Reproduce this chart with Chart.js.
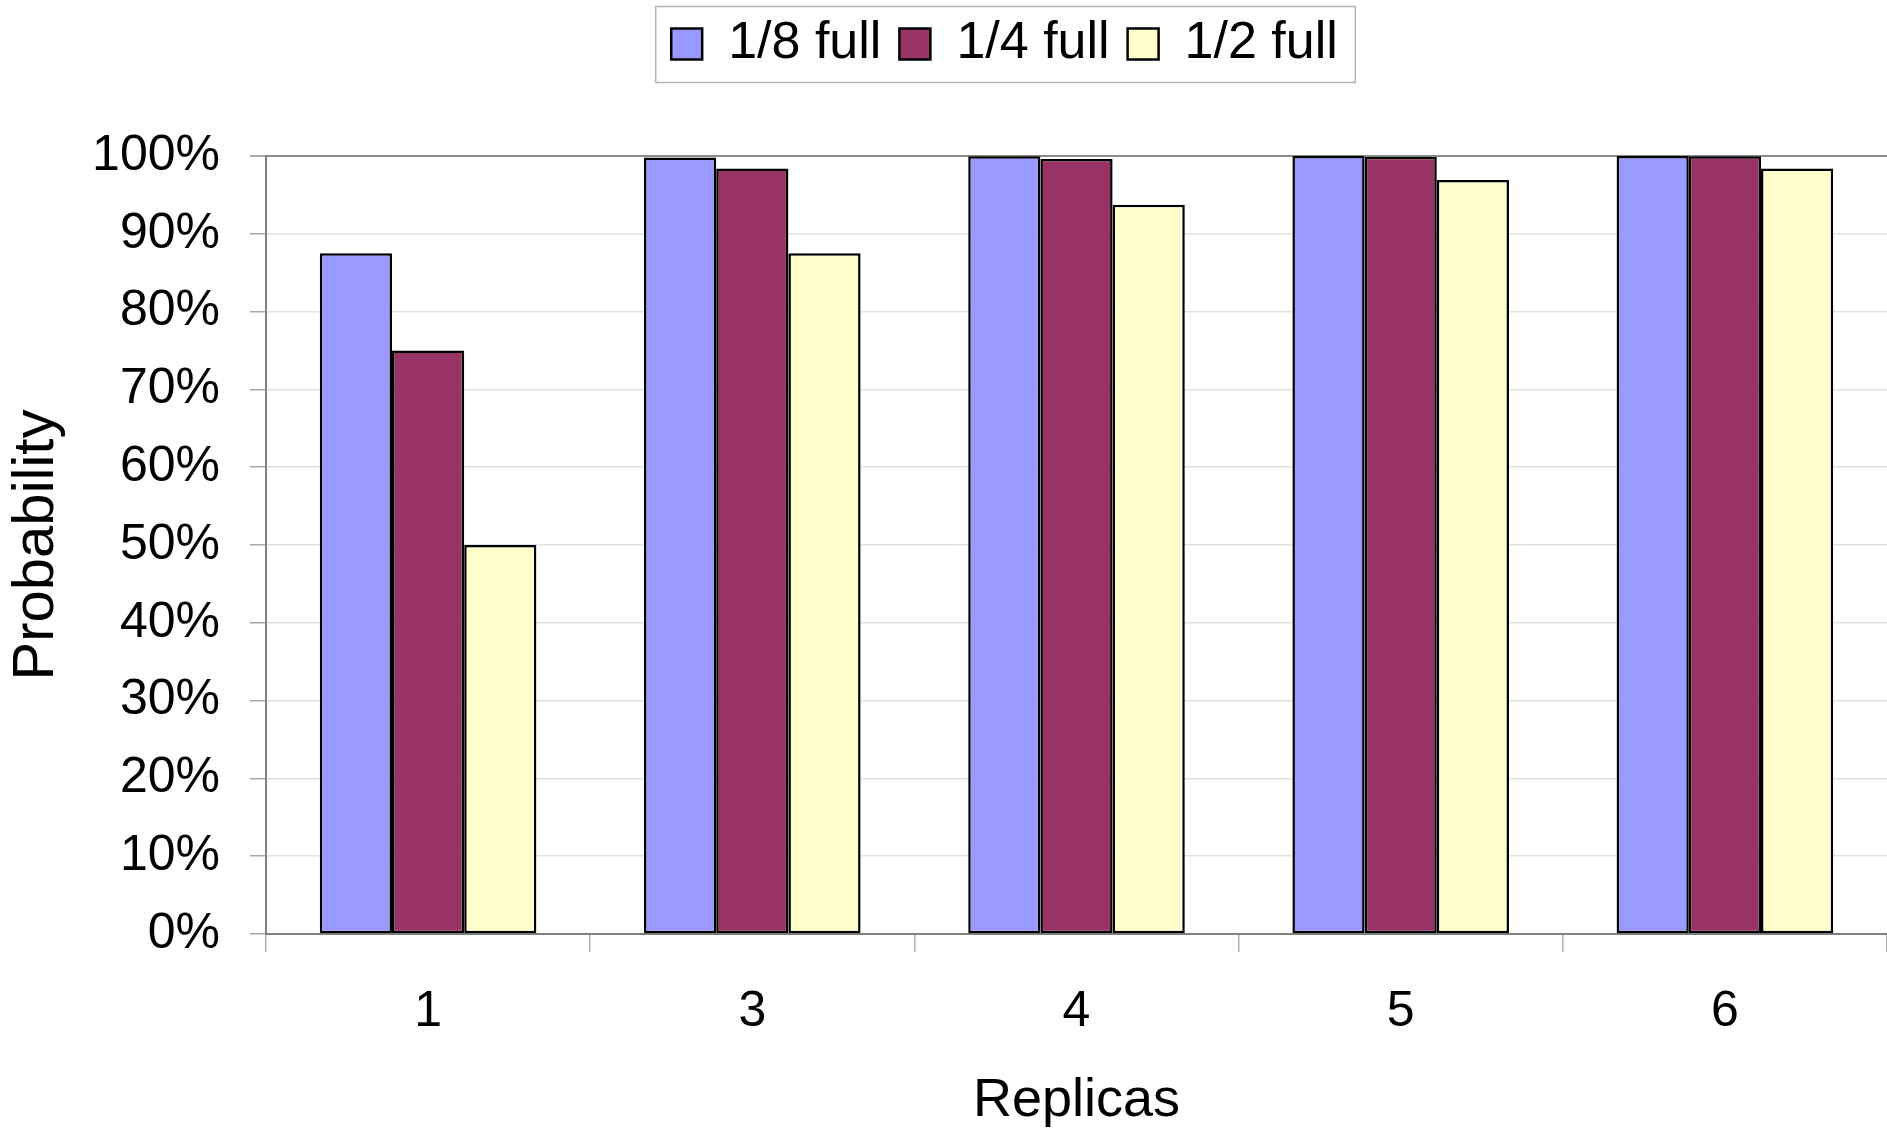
<!DOCTYPE html>
<html><head><meta charset="utf-8">
<script src="https://cdn.jsdelivr.net/npm/chart.js@4.4.1/dist/chart.umd.min.js"></script>
<style>html,body{margin:0;padding:0;background:#fff}#wrap{width:1887px;height:1131px}</style>
</head><body><div id="wrap"><canvas id="c" width="1887" height="1131"></canvas></div>
<script>
const categories = ['1', '3', '4', '5', '6'];
const seriesNames = ['1/8 full', '1/4 full', '1/2 full'];
const eighthFull = [87.5, 99.8, 99.98, 100, 100];
const quarterFull = [75, 98.4, 99.6, 99.9, 99.98];
const halfFull = [50, 87.5, 93.75, 96.9, 98.4];
const xTitle = 'Replicas';
const yTitle = 'Probability';

const FONT = "'Liberation Sans', Arial, Helvetica, sans-serif";
Chart.defaults.font.family = FONT;
Chart.defaults.color = '#000';

const legendShift = {
  id: 'legendShift',
  afterLayout(chart) {
    const lg = chart.legend;
    if (lg) { lg.left += 61; lg.right += 61; }
  }
};
const legendFrame = {
  id: 'legendFrame',
  afterDraw(chart) {
    const hb = chart.legend && chart.legend.legendHitBoxes;
    if (!hb || !hb.length) return;
    const last = hb[hb.length - 1];
    const l = hb[0].left - 16, r = last.left + last.width + 17;
    const t = hb[0].top - 12, b = hb[0].top + hb[0].height + 12;
    const ctx = chart.ctx;
    ctx.save();
    ctx.strokeStyle = '#b4b4b4';
    ctx.lineWidth = 1.5;
    ctx.strokeRect(l + 0.5, t + 0.5, r - l, b - t);
    ctx.restore();
  }
};

new Chart(document.getElementById('c'), {
  type: 'bar',
  data: {
    labels: categories,
    datasets: [
      { label: seriesNames[0], data: eighthFull, backgroundColor: '#9999FF' },
      { label: seriesNames[1], data: quarterFull, backgroundColor: '#993366' },
      { label: seriesNames[2], data: halfFull, backgroundColor: '#FFFFCC' }
    ].map(d => Object.assign(d, { borderColor: '#000', borderWidth: 2.5, borderSkipped: false }))
  },
  options: {
    responsive: false,
    animation: false,
    layout: { padding: 0 },
    datasets: { bar: { barPercentage: 1, categoryPercentage: 0.668 } },
    plugins: {
      tooltip: { enabled: false },
      legend: {
        position: 'top',
        labels: { boxWidth: 31, boxHeight: 31, padding: 18, font: { size: 52 }, color: '#000' }
      },
      title: { display: true, text: '', weight: 500, font: { size: 10, lineHeight: 1.2 }, padding: { top: 0, bottom: 64 } }
    },
    scales: {
      x: {
        grid: { display: true, drawOnChartArea: false, offset: true, tickLength: 18, color: '#b0b0b0', lineWidth: 1.5 },
        border: { display: true, color: '#808080', width: 2 },
        ticks: { font: { size: 50 }, color: '#000', padding: 30 },
        title: { display: true, text: xTitle, font: { size: 54, lineHeight: 1.1 }, color: '#000', padding: 0 },
        afterFit(s) { s.height = 197; }
      },
      y: {
        min: 0, max: 100,
        grid: {
          color: c => (c.tick && c.tick.value === 100) ? '#8c8c8c' : '#e2e2e2',
          lineWidth: c => (c.tick && c.tick.value === 100) ? 2 : 1.5,
          tickColor: '#a8a8a8', tickLength: 16
        },
        border: { display: true, color: '#808080', width: 2 },
        ticks: { stepSize: 10, font: { size: 50 }, color: '#000', padding: 30, callback: v => v + '%' },
        title: { display: true, text: yTitle, font: { size: 58, lineHeight: 1.2 }, color: '#000', padding: { top: 2, bottom: 0 } },
        afterFit(s) { s.width = 266; }
      }
    }
  },
  plugins: [legendShift, legendFrame]
});
</script></body></html>
